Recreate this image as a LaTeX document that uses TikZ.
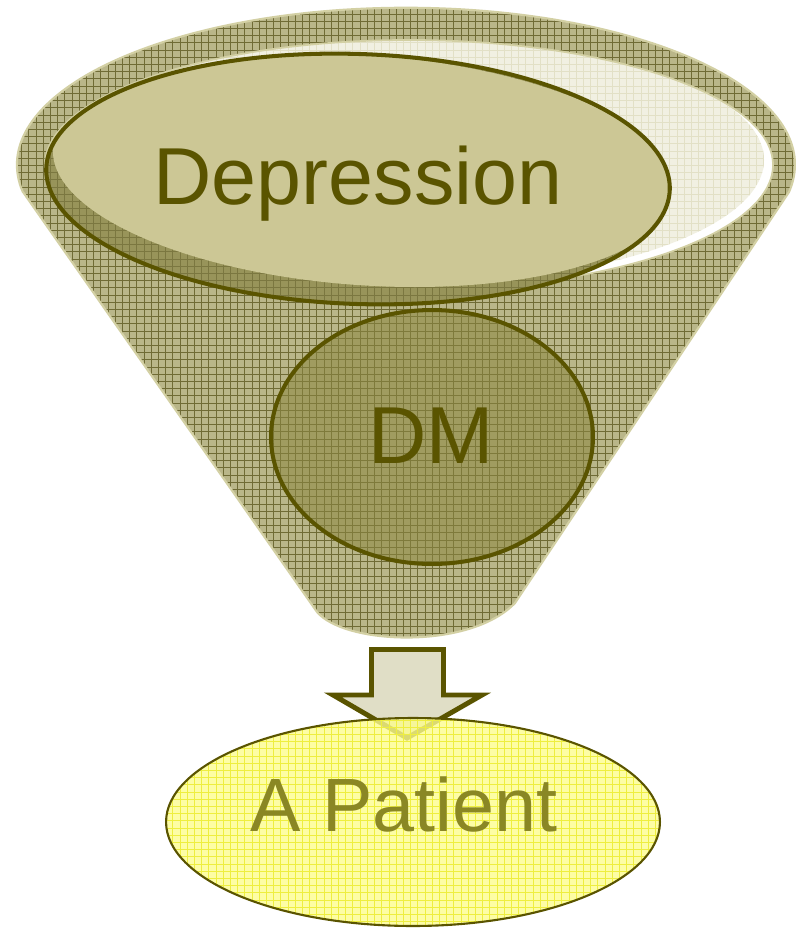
\documentclass[tikz,border=0pt]{standalone}
\usepackage{fontspec}
\setmainfont{Liberation Sans}
\usetikzlibrary{shapes.geometric,patterns}

\definecolor{olivedark}{HTML}{5A5400}
\definecolor{funnelbase}{HTML}{B9B689}
\definecolor{funnelgrid}{HTML}{6F6B35}
\definecolor{funneledge}{HTML}{D3D0A4}
\definecolor{openingfill}{HTML}{F1F0E2}
\definecolor{openinggrid}{HTML}{E2E0C6}
\definecolor{depface}{HTML}{CCC795}
\definecolor{depband}{HTML}{98945A}
\definecolor{dmfill}{HTML}{8C8740}
\definecolor{arrowfill}{HTML}{E0DEC6}
\definecolor{patientfill}{HTML}{FCFC8E}
\definecolor{patientgrid}{HTML}{EEEE40}
\definecolor{patienttext}{HTML}{8A8724}

% square grid texture, colour given by "pattern color"
\pgfdeclarepatternformonly{finegrid}{\pgfqpoint{-0.5pt}{-0.5pt}}{\pgfqpoint{4.6pt}{4.6pt}}{\pgfqpoint{4.1pt}{4.1pt}}{%
  \pgfsetlinewidth{0.55pt}%
  \pgfpathmoveto{\pgfqpoint{-0.5pt}{0pt}}\pgfpathlineto{\pgfqpoint{4.6pt}{0pt}}%
  \pgfpathmoveto{\pgfqpoint{0pt}{-0.5pt}}\pgfpathlineto{\pgfqpoint{0pt}{4.6pt}}%
  \pgfusepath{stroke}}

\tikzset{
  bigoval/.style={ellipse, inner sep=0pt, outer sep=0pt},
  ovaltext/.style={anchor=base, inner sep=0pt, font=\fontsize{46}{52}\selectfont, text=olivedark},
}

\begin{document}
\begin{tikzpicture}[x=0.02cm, y=-0.02cm]
\useasboundingbox (0,0) rectangle (795,929);

% funnel body: rim ellipse joined to the tapering cone
\path[preaction={fill=funnelbase}, pattern=finegrid, pattern color=funnelgrid,
      draw=funneledge, line width=1.2pt, line join=round]
  (23,192) -- (317,612) .. controls (345,645) and (470,650) .. (515,603)
  -- (789,192) arc[start angle=10, end angle=-190, x radius=389, y radius=157] -- cycle;

% the light opening of the funnel with its white inner highlight
\begin{scope}
  \clip (409,165) ellipse [x radius=364, y radius=125];
  \fill[white] (409,165) ellipse [x radius=364, y radius=125];
  \fill[openingfill] (400,160) ellipse [x radius=364, y radius=125];
  \path[pattern=finegrid, pattern color=openinggrid] (400,160) ellipse [x radius=364, y radius=125];
\end{scope}
\draw[funneledge, line width=1pt] (409,165) ellipse [x radius=364, y radius=125];

% Depression disc: shaded rim, light face, dark outline (slightly tilted)
\begin{scope}[rotate around={-2:(358,179)}]
  \path[fill=depband] (358,179) ellipse [x radius=312, y radius=125];
  \path[pattern=finegrid, pattern color=funnelgrid!70!depband] (358,179) ellipse [x radius=312, y radius=125];
  \begin{scope}
    \clip (358,179) ellipse [x radius=312, y radius=125];
    \fill[depface, rotate around={-2:(364,170)}] (364,170) ellipse [x radius=312, y radius=115];
  \end{scope}
\end{scope}
\node[bigoval, draw=olivedark, line width=2.3pt, rotate=-2, minimum width=12.48cm, minimum height=5cm] (dep) at (358,179) {};
\node[ovaltext] (deplabel) at (358,205) {Depression};

% DM disc, translucent over the funnel texture
\node[bigoval, draw=olivedark, line width=2.3pt, fill=dmfill, fill opacity=0.55,
      minimum width=6.44cm, minimum height=5.08cm] (dm) at (432,437) {};
\node[ovaltext] (dmlabel) at (431,463) {DM};

% block arrow from the funnel outlet down to the patient
\draw[fill=arrowfill, draw=olivedark, line width=2.8pt, line join=miter]
  (371.5,649.5) -- (443.5,649.5) -- (443.5,695) -- (482,695) -- (407,738)
  -- (333,695) -- (371.5,695) -- cycle;

% patient oval
\path[fill=patientfill, fill opacity=0.8] (413,822) ellipse [x radius=247, y radius=104];
\path[pattern=finegrid, pattern color=patientgrid] (413,822) ellipse [x radius=247, y radius=104];
\node[bigoval, draw=olivedark, line width=1.2pt, minimum width=9.88cm, minimum height=4.16cm] (pat) at (413,822) {};
\node[ovaltext, font=\fontsize{43}{48}\selectfont, text=patienttext] (patlabel) at (404,831) {A Patient};
\end{tikzpicture}
\end{document}
